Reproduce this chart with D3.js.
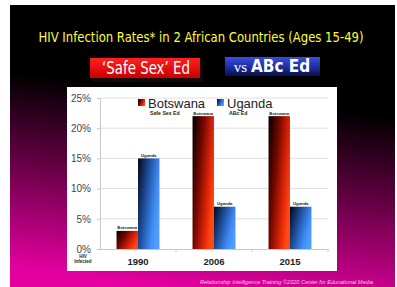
<!DOCTYPE html>
<html>
<head>
<meta charset="utf-8">
<script src="https://cdn.jsdelivr.net/npm/d3@7"></script>
<style>
  body { margin: 0; background: #fff; }
  svg { display: block; }
</style>
</head>
<body>
<div id="chart"></div>
<script>
// Chart data
const years = ["1990", "2006", "2015"];
const botswana = [3, 22, 22];
const uganda = [15, 7, 7];
const seriesNames = ["Botswana", "Uganda"];
const seriesSubs = ["Safe Sex Ed", "ABc Ed"];
const yTicks = [0, 5, 10, 15, 20, 25];

const W = 397, H = 287;
const narrow = "'Liberation Sans Narrow', 'DejaVu Sans Condensed', sans-serif";

const svg = d3.select("#chart").append("svg")
    .attr("width", W)
    .attr("height", H);

const defs = svg.append("defs");

// Slide background: black fading to magenta at the bottom
const bg = defs.append("linearGradient").attr("id", "bg")
    .attr("x1", 0.58).attr("y1", 0).attr("x2", 0.42).attr("y2", 1);
bg.append("stop").attr("offset", 0).attr("stop-color", "#000");
bg.append("stop").attr("offset", 0.32).attr("stop-color", "#000");
bg.append("stop").attr("offset", 0.62).attr("stop-color", "#620042");
bg.append("stop").attr("offset", 1).attr("stop-color", "#e400a0");

// Bar gradients
const gBot = defs.append("linearGradient").attr("id", "gBot")
    .attr("x1", 0).attr("y1", 0.1).attr("x2", 1).attr("y2", 0.6);
gBot.append("stop").attr("offset", 0).attr("stop-color", "#080000");
gBot.append("stop").attr("offset", 0.4).attr("stop-color", "#7a0800");
gBot.append("stop").attr("offset", 0.8).attr("stop-color", "#e82a08");
gBot.append("stop").attr("offset", 1).attr("stop-color", "#ff4a18");

const gUga = defs.append("linearGradient").attr("id", "gUga")
    .attr("x1", 0).attr("y1", 0.1).attr("x2", 1).attr("y2", 0.6);
gUga.append("stop").attr("offset", 0).attr("stop-color", "#050d22");
gUga.append("stop").attr("offset", 0.4).attr("stop-color", "#1e4c98");
gUga.append("stop").attr("offset", 0.8).attr("stop-color", "#3f8cf6");
gUga.append("stop").attr("offset", 1).attr("stop-color", "#4e9dff");

// Button gradients
const gRed = defs.append("linearGradient").attr("id", "gRed")
    .attr("x1", 0).attr("y1", 0).attr("x2", 0).attr("y2", 1);
gRed.append("stop").attr("offset", 0).attr("stop-color", "#ff2020");
gRed.append("stop").attr("offset", 1).attr("stop-color", "#c80000");

const gBlue = defs.append("linearGradient").attr("id", "gBlue")
    .attr("x1", 0).attr("y1", 0).attr("x2", 0).attr("y2", 1);
gBlue.append("stop").attr("offset", 0).attr("stop-color", "#3a4ee0");
gBlue.append("stop").attr("offset", 0.6).attr("stop-color", "#1a2a9a");
gBlue.append("stop").attr("offset", 1).attr("stop-color", "#0a0f40");

svg.append("rect")
    .attr("x", 10).attr("y", 5)
    .attr("width", 385).attr("height", 282)
    .attr("fill", "url(#bg)");

// Title
svg.append("text")
    .attr("x", 201).attr("y", 42)
    .attr("text-anchor", "middle")
    .attr("textLength", 325)
    .attr("lengthAdjust", "spacingAndGlyphs")
    .style("font-family", narrow)
    .style("font-size", "14px")
    .attr("fill", "#ffff33")
    .text("HIV Infection Rates* in 2 African Countries (Ages 15-49)");

// Buttons
svg.append("rect").attr("x", 93).attr("y", 61).attr("width", 110).attr("height", 21)
    .attr("fill", "#1a0a10").attr("opacity", 0.8);
svg.append("rect").attr("x", 90).attr("y", 58).attr("width", 110).attr("height", 20)
    .attr("fill", "url(#gRed)");
svg.append("text")
    .attr("x", 146).attr("y", 74)
    .attr("text-anchor", "middle")
    .attr("textLength", 88)
    .attr("lengthAdjust", "spacingAndGlyphs")
    .style("font-family", narrow)
    .style("font-size", "17px")
    .attr("fill", "#fff")
    .text("\u2018Safe Sex\u2019 Ed");

svg.append("rect").attr("x", 225).attr("y", 57).attr("width", 95).attr("height", 19)
    .attr("fill", "url(#gBlue)");
const vs = svg.append("text")
    .attr("x", 272).attr("y", 72)
    .attr("text-anchor", "middle")
    .attr("fill", "#fff");
vs.append("tspan")
    .style("font-family", "'Liberation Serif', serif")
    .style("font-size", "15px")
    .text("vs ");
vs.append("tspan")
    .style("font-family", narrow)
    .style("font-size", "17px")
    .style("font-weight", "bold")
    .text("ABc Ed");

// Chart panel
svg.append("rect")
    .attr("x", 67).attr("y", 87)
    .attr("width", 270).attr("height", 184)
    .attr("fill", "#fff");

const plot = {left: 100, right: 328, top: 98, bottom: 249};

const x = d3.scaleBand()
    .domain(years)
    .range([plot.left, plot.right])
    .padding(0);

const xs = d3.scaleBand()
    .domain(seriesNames)
    .range([0, x.bandwidth()])
    .paddingInner(0)
    .paddingOuter(0.77);

const y = d3.scaleLinear()
    .domain([0, 25])
    .range([plot.bottom, plot.top]);

// Gridlines
svg.append("g")
    .selectAll("line")
    .data(yTicks.filter(d => d > 0))
    .enter().append("line")
    .attr("x1", plot.left).attr("x2", plot.right)
    .attr("y1", d => y(d)).attr("y2", d => y(d))
    .attr("stroke", "#d8d8d8")
    .attr("stroke-width", 0.8);

// Y axis
const yAxis = svg.append("g")
    .attr("transform", `translate(${plot.left},0)`)
    .call(d3.axisLeft(y).tickValues(yTicks).tickSize(3).tickPadding(6).tickFormat(d => d + "%"));
yAxis.select(".domain").attr("stroke", "#c8c8c8");
yAxis.selectAll(".tick line").attr("stroke", "#c8c8c8");
yAxis.selectAll("text")
    .attr("fill", "#444")
    .style("font-family", "'Liberation Sans', Arial, sans-serif")
    .style("font-size", "10px");

// X axis
const xAxis = svg.append("g")
    .attr("transform", `translate(0,${plot.bottom})`)
    .call(d3.axisBottom(x).tickSize(0).tickPadding(9));
xAxis.select(".domain").attr("stroke", "#c8c8c8");
xAxis.selectAll("text")
    .attr("fill", "#222")
    .style("font-family", "'Liberation Sans', Arial, sans-serif")
    .style("font-size", "9.5px")
    .style("font-weight", "bold");
// category separator ticks
svg.append("g")
    .selectAll("line")
    .data(years.slice(1).concat(["end"]))
    .enter().append("line")
    .attr("x1", d => d === "end" ? plot.right : x(d))
    .attr("x2", d => d === "end" ? plot.right : x(d))
    .attr("y1", plot.bottom).attr("y2", plot.bottom + 3)
    .attr("stroke", "#c8c8c8");

// HIV Infected label
svg.append("text")
    .attr("x", 83).attr("y", 258)
    .attr("text-anchor", "middle")
    .style("font-family", "'Liberation Sans', Arial, sans-serif")
    .style("font-size", "4.5px")
    .style("font-weight", "bold")
    .attr("fill", "#222")
    .selectAll("tspan")
    .data(["HIV", "Infected"])
    .enter().append("tspan")
    .attr("x", 83)
    .attr("dy", (d, i) => i === 0 ? 0 : 5)
    .text(d => d);

// Bars
const barData = [];
years.forEach((yr, i) => {
    barData.push({year: yr, series: "Botswana", value: botswana[i], fill: "url(#gBot)"});
    barData.push({year: yr, series: "Uganda", value: uganda[i], fill: "url(#gUga)"});
});

const bars = svg.append("g");
bars.selectAll("rect")
    .data(barData)
    .enter().append("rect")
    .attr("x", d => x(d.year) + xs(d.series))
    .attr("y", d => y(d.value))
    .attr("width", xs.bandwidth())
    .attr("height", d => y(0) - y(d.value))
    .attr("fill", d => d.fill);

bars.selectAll("text")
    .data(barData)
    .enter().append("text")
    .attr("x", d => x(d.year) + xs(d.series) + xs.bandwidth() / 2)
    .attr("y", d => y(d.value) - 1.5)
    .attr("text-anchor", "middle")
    .style("font-family", "'Liberation Sans', Arial, sans-serif")
    .style("font-size", "4.2px")
    .style("font-weight", "bold")
    .attr("fill", "#222")
    .text(d => d.series);

// Legend
const legendX = [138, 217];
const legendFill = ["url(#gBot)", "url(#gUga)"];
seriesNames.forEach((name, i) => {
    const g = svg.append("g").attr("transform", `translate(${legendX[i]},99)`);
    g.append("rect")
        .attr("width", 7).attr("height", 7)
        .attr("fill", legendFill[i]);
    g.append("text")
        .attr("x", 10).attr("y", 8.5)
        .style("font-family", "'Liberation Sans', Arial, sans-serif")
        .style("font-size", "13px")
        .attr("fill", "#222")
        .text(name);
    g.append("text")
        .attr("x", 12).attr("y", 16)
        .style("font-family", "'Liberation Sans', Arial, sans-serif")
        .style("font-size", "5.2px")
        .style("font-weight", "bold")
        .attr("fill", "#222")
        .text(seriesSubs[i]);
});

// Footer
svg.append("text")
    .attr("x", 200).attr("y", 284)
    .attr("textLength", 173)
    .attr("lengthAdjust", "spacingAndGlyphs")
    .style("font-family", "'Liberation Sans', Arial, sans-serif")
    .style("font-size", "6px")
    .style("font-style", "italic")
    .attr("fill", "#f4c8e8")
    .text("Relationship Intelligence Training  \u00A92020 Center for Educational Media");
</script>
</body>
</html>
